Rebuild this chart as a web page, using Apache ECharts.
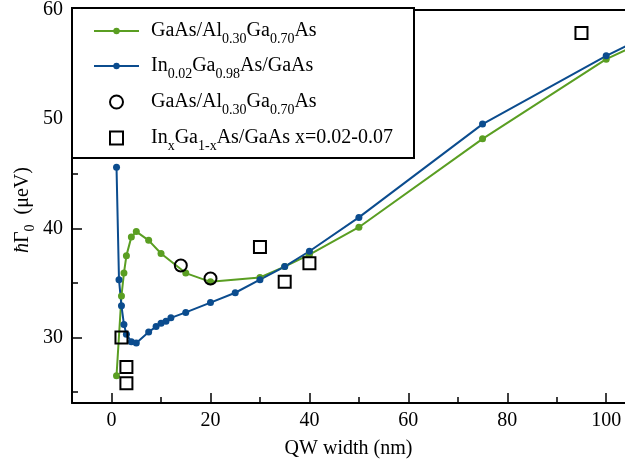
<!DOCTYPE html>
<html><head><meta charset="utf-8">
<script src="https://cdn.jsdelivr.net/npm/echarts@6/dist/echarts.min.js"></script>
<style>html,body{margin:0;padding:0;background:#fff}#c{width:625px;height:466px}</style>
</head><body><div id="c"></div><script>
// ---- data ----
const greenX = [1, 2, 2.5, 3, 4, 5, 7.5, 10, 15, 20, 30, 35, 40, 50, 75, 100, 150];
const greenY = [26.5, 33.8, 35.9, 37.5, 39.2, 39.7, 38.9, 37.7, 35.9, 35.1, 35.5, 36.5, 37.6, 40.1, 48.2, 55.5, 66.0];
const blueX = [1, 1.5, 2, 2.5, 3, 4, 5, 7.5, 9, 10, 11, 12, 15, 20, 25, 30, 35, 40, 50, 75, 100, 150];
const blueY = [45.6, 35.3, 32.9, 31.2, 30.3, 29.6, 29.5, 30.5, 31.0, 31.3, 31.5, 31.8, 32.3, 33.2, 34.1, 35.3, 36.5, 37.9, 41.0, 49.55, 55.8, 66.8];
const circX = [14, 20];
const circY = [36.6, 35.4];
const sqX = [2, 3, 3, 30, 35, 40, 95];
const sqY = [30.0, 27.3, 25.8, 38.3, 35.1, 36.8, 57.9];
const xTickMajor = [0, 20, 40, 60, 80, 100];
const xTickMinor = [10, 30, 50, 70, 90];
const yTickMajor = [30, 40, 50, 60];
const yTickMinor = [25, 35, 45, 55];
const seriesNames = ['GaAs/Al0.30Ga0.70As (theory)', 'In0.02Ga0.98As/GaAs (theory)', 'GaAs/Al0.30Ga0.70As', 'InxGa1-xAs/GaAs x=0.02-0.07'];
const legendRich = [
  'GaAs/Al{s|0.30}Ga{s|0.70}As',
  'In{s|0.02}Ga{s|0.98}As/GaAs',
  'GaAs/Al{s|0.30}Ga{s|0.70}As',
  'In{s|x}Ga{s|1-x}As/GaAs x=0.02-0.07'
];
const xAxisTitle = 'QW width (nm)';
const yAxisTitle = '{h|ħ}Γ{s|0}  (μeV)';
// --------------------------------------
const zip = (a, b) => a.map((v, i) => [v, b[i]]);
const GREEN = '#5a9e22', BLUE = '#0b4c8e';
const FONT = 'Liberation Serif';
const mkLegendText = padLeft => ({
  fontFamily: FONT, fontSize: 20, color: '#000', padding: [0, 0, 0, padLeft],
  rich: { s: { fontFamily: FONT, fontSize: 14, color: '#000', padding: [16, 0, 0, 0] } }
});
const fmt = name => legendRich[seriesNames.indexOf(name)];
const chart = echarts.init(document.getElementById('c'), null, { renderer: 'canvas' });
const labelStyle = { color: '#000', fontFamily: FONT, fontSize: 20 };
const XMIN = -8, XMAX = 103.8;
chart.setOption({
  animation: false,
  backgroundColor: '#fff',
  grid: { left: 72, top: 8, right: 0, bottom: 63, show: false },
  xAxis: [
    { type: 'value', min: XMIN, max: XMAX, position: 'bottom',
      axisLine: { show: true, onZero: false, lineStyle: { color: '#000', width: 2 } },
      axisTick: { show: true, inside: true, length: 10, customValues: xTickMajor, lineStyle: { color: '#000', width: 1.5 } },
      axisLabel: Object.assign({ customValues: xTickMajor, margin: 8 }, labelStyle),
      splitLine: { show: false },
      name: xAxisTitle, nameLocation: 'middle', nameGap: 36,
      nameTextStyle: { color: '#000', fontFamily: FONT, fontSize: 20 } },
    { type: 'value', min: XMIN, max: XMAX, position: 'bottom',
      axisLine: { show: false, onZero: false },
      axisTick: { show: true, inside: true, length: 6, customValues: xTickMinor, lineStyle: { color: '#000', width: 1.5 } },
      axisLabel: { show: false }, splitLine: { show: false } },
    { type: 'value', min: XMIN, max: XMAX, position: 'top',
      axisLine: { show: true, onZero: false, lineStyle: { color: '#000', width: 2 } },
      axisTick: { show: false }, axisLabel: { show: false }, splitLine: { show: false } }
  ],
  yAxis: [
    { type: 'value', min: 24, max: 60, position: 'left',
      axisLine: { show: true, onZero: false, lineStyle: { color: '#000', width: 2 } },
      axisTick: { show: true, inside: true, length: 10, customValues: yTickMajor, lineStyle: { color: '#000', width: 1.5 } },
      axisLabel: Object.assign({ customValues: yTickMajor, margin: 9 }, labelStyle),
      splitLine: { show: false } },
    { type: 'value', min: 24, max: 60, position: 'left',
      axisLine: { show: false, onZero: false },
      axisTick: { show: true, inside: true, length: 6, customValues: yTickMinor, lineStyle: { color: '#000', width: 1.5 } },
      axisLabel: { show: false }, splitLine: { show: false } }
  ],
  graphic: [
    { type: 'rect', z: 3, shape: { x: 72, y: 8, width: 342, height: 150 },
      style: { fill: '#fff', stroke: '#000', lineWidth: 2 } },
    { type: 'text', x: 23, y: 210, rotation: Math.PI / 2, z: 3,
      style: { text: yAxisTitle, fill: '#000', font: '20px "Liberation Serif"', align: 'center', verticalAlign: 'middle',
        rich: { h: { fontFamily: FONT, fontSize: 20, fontStyle: 'italic', fill: '#000' },
                s: { fontFamily: FONT, fontSize: 14, fill: '#000', padding: [14, 0, 0, 0] } } } }
  ],
  legend: [
    { orient: 'vertical', left: 93, top: 21, padding: 0, itemGap: 10, itemWidth: 45, itemHeight: 8,
      data: [seriesNames[0], seriesNames[1]], formatter: fmt, textStyle: mkLegendText(7), z: 5 },
    { orient: 'vertical', left: 109, top: 92, padding: 0, itemGap: 11, itemWidth: 45, itemHeight: 13,
      data: [seriesNames[2], { name: seriesNames[3], icon: 'path://M0,0H10V10H0Z' }],
      formatter: fmt, textStyle: mkLegendText(7), z: 5 }
  ],
  series: [
    { name: seriesNames[0], type: 'line', data: zip(greenX, greenY), symbol: 'circle', symbolSize: 7,
      lineStyle: { color: GREEN, width: 2 }, itemStyle: { color: GREEN }, z: 2 },
    { name: seriesNames[1], type: 'line', data: zip(blueX, blueY), symbol: 'circle', symbolSize: 7,
      lineStyle: { color: BLUE, width: 2 }, itemStyle: { color: BLUE }, z: 2 },
    { name: seriesNames[2], type: 'scatter', data: zip(circX, circY), symbol: 'circle', symbolSize: 12,
      itemStyle: { color: 'rgba(0,0,0,0)', borderColor: '#000', borderWidth: 2, opacity: 1 }, z: 2 },
    { name: seriesNames[3], type: 'scatter', data: zip(sqX, sqY), symbol: 'rect', symbolSize: 12,
      itemStyle: { color: 'rgba(0,0,0,0)', borderColor: '#000', borderWidth: 2, opacity: 1 }, z: 2 }
  ]
});
</script></body></html>
